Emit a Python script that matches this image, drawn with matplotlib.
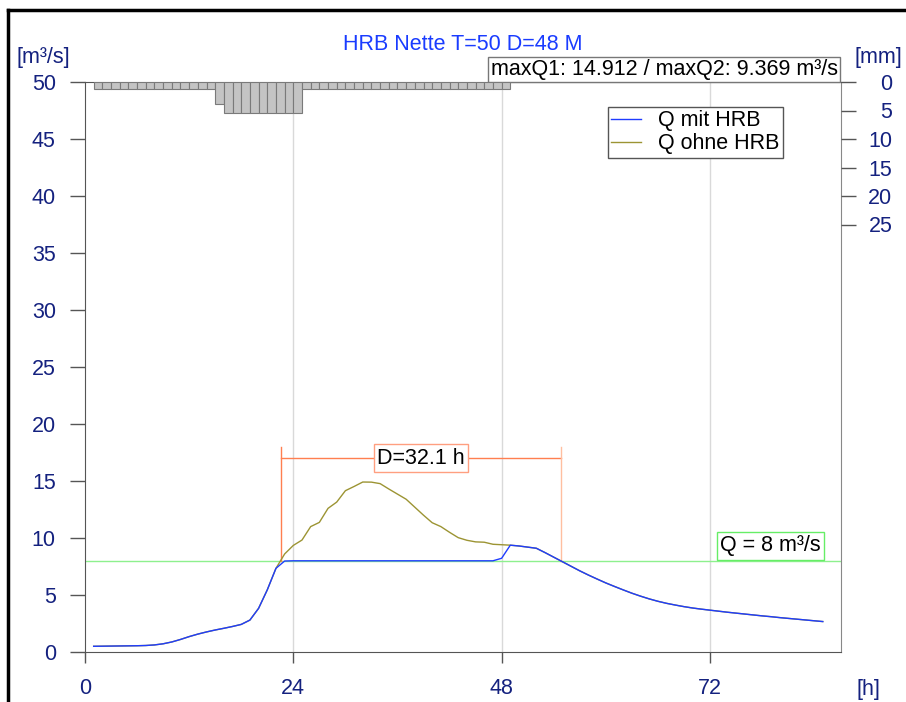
import matplotlib
matplotlib.use("Agg")
import matplotlib.pyplot as plt
from matplotlib.lines import Line2D

plt.rcParams['font.family'] = ['Liberation Sans', 'DejaVu Sans']

# hourly discharge [m3/s], hours 1..85
hours = list(range(1, 86))
q_mit_hrb = [0.50, 0.51, 0.52, 0.53, 0.54, 0.55, 0.57, 0.62, 0.72, 0.88,
             1.10, 1.35, 1.57, 1.76, 1.93, 2.08, 2.24, 2.42, 2.80, 3.83,
             5.45, 7.34, 7.98, 8.00, 8.00, 8.00, 8.00, 8.00, 8.00, 8.00,
             8.00, 8.00, 8.00, 8.00, 8.00, 8.00, 8.00, 8.00, 8.00, 8.00,
             8.00, 8.00, 8.00, 8.00, 8.00, 8.00, 8.00, 8.22, 9.37, 9.30,
             9.20, 9.10, 8.72, 8.32, 7.92, 7.52, 7.12, 6.75, 6.40, 6.06,
             5.75, 5.45, 5.16, 4.90, 4.66, 4.45, 4.27, 4.12, 3.98, 3.86,
             3.76, 3.67, 3.58, 3.49, 3.41, 3.33, 3.25, 3.17, 3.10, 3.02,
             2.95, 2.88, 2.81, 2.74, 2.67]
q_ohne_hrb = [0.50, 0.51, 0.52, 0.53, 0.54, 0.55, 0.57, 0.62, 0.72, 0.88,
              1.10, 1.35, 1.57, 1.76, 1.93, 2.08, 2.24, 2.42, 2.80, 3.83,
              5.45, 7.34, 8.60, 9.35, 9.82, 11.00, 11.37, 12.60, 13.15, 14.15,
              14.52, 14.91, 14.90, 14.77, 14.30, 13.85, 13.40, 12.70, 12.00, 11.34,
              11.00, 10.50, 10.03, 9.80, 9.66, 9.63, 9.45, 9.41, 9.37, 9.30,
              9.20, 9.10, 8.72, 8.32, 7.92, 7.52, 7.12, 6.75, 6.40, 6.06,
              5.75, 5.45, 5.16, 4.90, 4.66, 4.45, 4.27, 4.12, 3.98, 3.86,
              3.76, 3.67, 3.58, 3.49, 3.41, 3.33, 3.25, 3.17, 3.10, 3.02,
              2.95, 2.88, 2.81, 2.74, 2.67]

# hourly rain [mm], hours 1..48
rain_hours = list(range(1, 49))
rain_mm = [1.3, 1.3, 1.3, 1.3, 1.3, 1.3, 1.3, 1.3, 1.3, 1.3,
           1.3, 1.3, 1.3, 1.3, 3.9, 5.5, 5.5, 5.5, 5.5, 5.5,
           5.5, 5.5, 5.5, 5.5, 1.3, 1.3, 1.3, 1.3, 1.3, 1.3,
           1.3, 1.3, 1.3, 1.3, 1.3, 1.3, 1.3, 1.3, 1.3, 1.3,
           1.3, 1.3, 1.3, 1.3, 1.3, 1.3, 1.3, 1.3]

x_ticks = [0, 24, 48, 72]
y_ticks = [0, 5, 10, 15, 20, 25, 30, 35, 40, 45, 50]
rain_ticks = [0, 5, 10, 15, 20, 25]

q_limit = 8
d_start, d_end = 22.55, 54.8

navy = '#14217f'
fs = 15.5
W, H = 906, 702

fig = plt.figure(figsize=(W / 100, H / 100), dpi=100)
ax = fig.add_axes([85 / W, 50 / H, 756 / W, 570 / H])
ax.set_xlim(0, 87.1)
ax.set_ylim(0, 50)

for xt in [24, 48, 72]:
    ax.axvline(xt, color='#d9d9d9', lw=1, zorder=0)

ax.axhline(q_limit, color='#8ef08e', lw=1, zorder=1)

ax.plot(hours, q_ohne_hrb, color='#9c9433', lw=1.0, zorder=3)
ax.plot(hours, q_mit_hrb, color='#1f3cff', lw=1.0, zorder=4)

# duration bracket
ax.plot([d_start, d_end], [17, 17], color='#ff7f50', lw=1, zorder=2)
ax.plot([d_start, d_start], [8, 18], color='#ff7f50', lw=1, zorder=2)
ax.plot([d_end, d_end], [8, 18], color='#ffbfa0', lw=1, zorder=2)
ax.text((d_start + d_end) / 2, 17, 'D=32.1 h', ha='center', va='center', fontsize=fs,
        bbox=dict(boxstyle='square,pad=0.15', fc='white', ec='#ff9f80', lw=1), zorder=5)

ax.text(79.0, 9.3, 'Q = 8 m³/s', ha='center', va='center', fontsize=fs,
        bbox=dict(boxstyle='square,pad=0.15', fc='white', ec='#66ee66', lw=1), zorder=5)

ax.annotate('maxQ1: 14.912 / maxQ2: 9.369 m³/s', xy=(1, 1), xycoords='axes fraction',
            xytext=(-2.5, 1.5), textcoords='offset points', ha='right', va='bottom',
            fontsize=fs, annotation_clip=False,
            bbox=dict(boxstyle='square,pad=0.1', fc='white', ec='#777777', lw=1))

ax.set_xticks(x_ticks)
ax.set_yticks(y_ticks)
ax.tick_params(axis='y', direction='out', length=11, width=1, color='#555555',
               labelcolor=navy, labelsize=fs, pad=10)
ax.tick_params(axis='x', direction='out', length=8, width=1, color='#555555',
               labelcolor=navy, labelsize=fs, pad=11)
for s in ['left', 'bottom', 'top']:
    ax.spines[s].set_color('#555555')
ax.spines['right'].set_color('#888888')

leg = ax.legend([Line2D([], [], color='#1f3cff', lw=1), Line2D([], [], color='#9c9433', lw=1)],
                ['Q mit HRB', 'Q ohne HRB'], loc='upper right', bbox_to_anchor=(0.923, 0.956),
                borderaxespad=0, fontsize=fs, frameon=True, fancybox=False, framealpha=1,
                edgecolor='#555555', labelspacing=0.1, handlelength=1.4, handletextpad=0.8,
                borderpad=0.15)
leg.get_frame().set_linewidth(1)

# rain on inverted secondary axis
ax2 = ax.twinx()
ax2.set_ylim(100, 0)
ax2.bar(rain_hours, rain_mm, width=1, align='edge', color='#c4c4c4', edgecolor='#7a7a7a', lw=0.8)
ax2.set_yticks(rain_ticks)
ax2.tick_params(axis='y', direction='out', length=11, width=1, color='#555555',
                labelcolor=navy, labelsize=fs, pad=26)
for lab in ax2.get_yticklabels():
    lab.set_horizontalalignment('right')
for s in ax2.spines.values():
    s.set_visible(False)

fig.text(463 / W, 1 - 45 / H, 'HRB Nette T=50 D=48 M', ha='center', va='center',
         fontsize=fs, color='#1a3cff')
fig.text(43 / W, 1 - 57 / H, '[m³/s]', ha='center', va='center', fontsize=fs, color=navy)
fig.text(878 / W, 1 - 57 / H, '[mm]', ha='center', va='center', fontsize=fs, color=navy)
fig.text(868 / W, 1 - 690 / H, '[h]', ha='center', va='center', fontsize=fs, color=navy)

# outer frame (top and left edges)
fig.add_artist(Line2D([8 / W, 8 / W], [0, 1 - 10 / H], color='black', lw=2.5, transform=fig.transFigure))
fig.add_artist(Line2D([8 / W, 1], [1 - 10 / H, 1 - 10 / H], color='black', lw=2.5, transform=fig.transFigure))

fig.savefig('out.png', dpi=100)
